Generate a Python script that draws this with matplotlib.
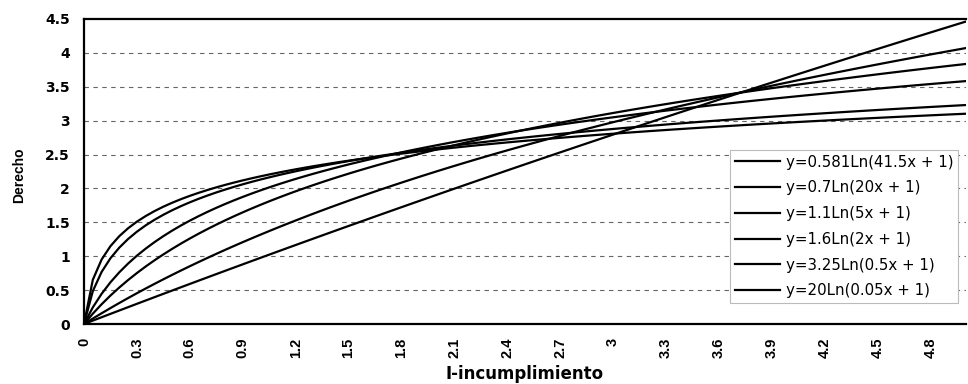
import numpy as np
import matplotlib
matplotlib.use("Agg")
import matplotlib.pyplot as plt

# y = a * Ln(b*x + 1) for each curve
coef_a = [0.581, 0.7, 1.1, 1.6, 3.25, 20]
coef_b = [41.5, 20, 5, 2, 0.5, 0.05]
labels = ["y=0.581Ln(41.5x + 1)", "y=0.7Ln(20x + 1)", "y=1.1Ln(5x + 1)",
          "y=1.6Ln(2x + 1)", "y=3.25Ln(0.5x + 1)", "y=20Ln(0.05x + 1)"]
x_vals = np.round(np.arange(0, 5.0001, 0.05), 2)
x_ticks = [0, 0.3, 0.6, 0.9, 1.2, 1.5, 1.8, 2.1, 2.4, 2.7, 3, 3.3, 3.6, 3.9, 4.2, 4.5, 4.8]
x_ticklabels = ["0", "0.3", "0.6", "0.9", "1.2", "1.5", "1.8", "2.1", "2.4", "2.7",
                "3", "3.3", "3.6", "3.9", "4.2", "4.5", "4.8"]
y_ticks = [0, 0.5, 1, 1.5, 2, 2.5, 3, 3.5, 4, 4.5]
y_ticklabels = ["0", "0.5", "1", "1.5", "2", "2.5", "3", "3.5", "4", "4.5"]

plt.rcParams['font.family'] = ['Liberation Sans', 'DejaVu Sans']

W, H = 968, 384
fig = plt.figure(figsize=(W / 100, H / 100), dpi=100)
left, right, top, bottom = 84, 966, 19, 324
ax = fig.add_axes([left / W, 1 - bottom / H, (right - left) / W, (bottom - top) / H])

for a, b, lab in zip(coef_a, coef_b, labels):
    ax.plot(x_vals, a * np.log(b * x_vals + 1), color='black', lw=1.6, label=lab)

ax.set_xlim(0, 5)
ax.set_ylim(0, 4.5)
ax.set_xticks(x_ticks)
ax.set_xticklabels(x_ticklabels, rotation=90, fontsize=10.5, fontweight='bold')
for t in ax.get_xticklabels():
    t.set_ha('center')
    t.set_va('top')
ax.set_yticks(y_ticks)
ax.set_yticklabels(y_ticklabels, fontsize=10, fontweight='bold', family='DejaVu Sans')
ax.tick_params(axis='x', length=0, pad=10)
ax.tick_params(axis='y', length=0, pad=10)

for yv in y_ticks[1:-1]:
    ax.axhline(yv, color='#666666', lw=0.8, ls=(0, (4, 4)), zorder=0)

for side in ['left', 'bottom', 'top']:
    ax.spines[side].set_linewidth(1.6)
ax.spines['right'].set_visible(False)

fig.text((left + right) / 2 / W, 1 - 374 / H, "I-incumplimiento", ha='center', va='center',
         fontsize=12, fontweight='bold', family='DejaVu Sans')
fig.text(19 / W, 1 - 175 / H, "Derecho", ha='center', va='center', rotation=90,
         fontsize=10, fontweight='bold')

leg = ax.legend(loc='upper left',
                bbox_to_anchor=((730 - left) / (right - left), (bottom - 150) / (bottom - top)),
                prop={'family': 'DejaVu Sans', 'size': 10.8},
                frameon=True, fancybox=False, edgecolor='#bbbbbb', facecolor='white',
                framealpha=1, handlelength=3.0, handletextpad=0.4,
                labelspacing=0.72, borderpad=0.3, borderaxespad=0)
leg.get_frame().set_linewidth(0.8)

fig.savefig("out.png", dpi=100)
